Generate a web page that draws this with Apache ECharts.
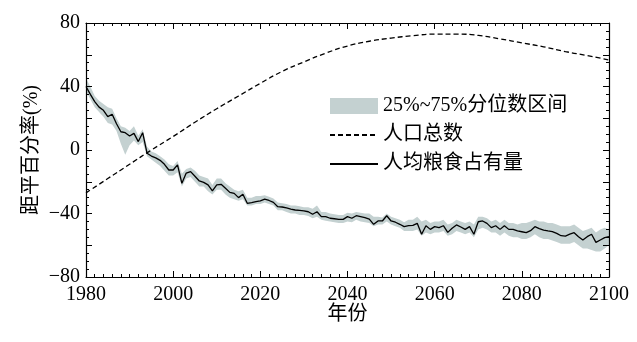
<!DOCTYPE html>
<html><head><meta charset="utf-8">
<script src="https://cdn.jsdelivr.net/npm/echarts@6/dist/echarts.min.js"></script>
<style>html,body{margin:0;padding:0;background:#fff}#c{width:637px;height:342px}</style>
</head><body><div id="c"></div>
<script>
const startYear = 1980;
const endYear = 2100;
const perCapitaMedian = [
 40, 35, 30.5, 27, 25, 21, 22.5, 16.5, 11.5, 10.9,
 8.8, 10.5, 5.3, 10.9, -2, -3.8, -5, -6.5, -9, -12.6,
 -12.6, -9.4, -21, -14.5, -13.6, -16.5, -19.5, -20.4, -22, -25.8,
 -22, -21.6, -24.1, -26.7, -27.3, -30, -27.9, -33.6, -33.2, -32.5,
 -32, -31, -31.8, -33, -35.7, -35.9, -36.5, -37.2, -37.8, -38,
 -38.3, -38.9, -40.5, -38.9, -42, -42, -43, -43.3, -43.7, -43.7,
 -42, -43, -41.4, -42, -42.6, -43.5, -46.8, -44.7, -44.7, -41.4,
 -44.7, -45.5, -46.8, -48.3, -47.7, -47.5, -46.2, -53.1, -47.7, -50,
 -48.3, -48.9, -47.7, -51.9, -49.3, -47.2, -48.5, -50, -48.3, -53.1,
 -45.2, -44.7, -46.2, -48.9, -47.7, -50, -47.7, -50, -50, -51,
 -51.5, -52.1, -50.8, -48.3, -49.5, -50.5, -51, -51.4, -52.5, -54,
 -54.2, -53, -52.1, -54.6, -56.7, -54.6, -53.1, -58.2, -56.7, -55.2,
 -54.5
];
const perCapitaLower = [
 37, 32, 27, 24, 21, 17, 16, 12, 4, -3,
 3, 6, 3, 5, -4, -6, -8, -10, -13, -16,
 -16, -14, -23, -18, -17, -20, -23, -23, -26, -28,
 -25, -25, -28, -30, -31, -32, -31, -35, -35, -34,
 -34, -33, -34, -35, -38, -38, -39, -40, -40, -41,
 -41, -41.5, -43, -42, -44, -44.5, -45, -45.5, -46, -46,
 -45, -45.5, -44, -45, -45.5, -46, -48, -47, -47, -45,
 -47, -48, -49, -51, -51, -51, -50, -54, -52, -53,
 -52, -52, -51, -54, -53, -51, -52, -53, -52, -55,
 -50, -49, -50, -52, -52, -54, -52, -54, -55, -55,
 -56, -56, -55, -53, -55, -56, -56, -57, -58, -59,
 -59, -59, -58, -60, -62, -62, -63, -64, -64, -62,
 -60
];
const perCapitaUpper = [
 45, 40, 34, 31, 29, 27, 26, 20, 15, 14,
 12, 15, 9, 13, 2, -1, -2, -4, -6, -9,
 -10, -7, -15, -12, -11, -13, -16, -17, -18, -22,
 -18, -18, -21, -23, -25, -26, -25, -30, -30, -29,
 -29, -28.5, -29.5, -30.5, -33, -33.5, -34, -35, -35, -35.5,
 -36, -36, -37, -35, -39, -39, -40, -40.5, -41, -41,
 -39.5, -40, -39, -39.5, -40, -40, -42, -42, -42.5, -40,
 -42, -43, -44, -45.5, -44, -44, -42, -45, -44, -46,
 -45, -45, -44, -47, -46, -44, -45, -46, -45, -47,
 -42, -42, -43, -45, -44, -46, -44, -46, -46, -47,
 -46, -46, -45, -44, -45, -45, -46, -46, -47, -48,
 -48, -48, -47, -49, -51, -50, -49, -52, -50, -49,
 -50
];
const popYears = [1980,1985,1990,1995,2000,2005,2010,2015,2020,2025,2030,2035,2040,2045,2050,2055,2060,2065,2070,2075,2080,2085,2090,2095,2100];
const popValues = [-27,-18,-9,0,8.5,17.5,26,34,42,49.5,55.5,61,65.5,68.5,70.5,72,73,73,72.2,70,67.5,65,62,59.5,56.7];
const xTickInterval = 20;
const yTickInterval = 20;
const yLabelStep = 40;

const FONT = '"Liberation Serif", "Noto Sans CJK SC", serif';
const yearCats = perCapitaMedian.map((_, i) => String(startYear + i));
const bandData = perCapitaUpper.map((v, i) => v - perCapitaLower[i]);
const popData = popValues.map((v, i) => [popYears[i], v]);
const medianData = perCapitaMedian.map((v, i) => [startYear + i, v]);

const axisLine = {show: true, onZero: false, lineStyle: {color: '#000', width: 1.2}};
const tickStyle = {color: '#000', width: 1};
function xAx(pos, labels) {
  return {
    type: 'value', position: pos, min: startYear, max: endYear, interval: xTickInterval, z: 5,
    axisLine: axisLine,
    axisTick: {show: true, inside: true, length: 6, lineStyle: tickStyle},
    minorTick: {show: true, splitNumber: 10, length: 3, lineStyle: tickStyle},
    splitLine: {show: false},
    axisLabel: {show: labels, fontFamily: FONT, fontSize: 20, color: '#000', margin: 8,
      formatter: v => String(v)},
    name: labels ? '年份' : '', nameLocation: 'middle', nameGap: 28, nameMoveOverlap: false,
    nameTextStyle: {fontFamily: FONT, fontSize: 20, color: '#000'}
  };
}
function yAx(pos, labels) {
  return {
    type: 'value', position: pos, min: -80, max: 80, interval: yTickInterval, z: 5,
    axisLine: axisLine,
    axisTick: {show: true, inside: true, length: 6, lineStyle: tickStyle},
    minorTick: {show: true, splitNumber: 4, length: 3, lineStyle: tickStyle},
    splitLine: {show: false},
    axisLabel: {show: labels, fontFamily: FONT, fontSize: 20, color: '#000', margin: 6,
      formatter: v => (v % yLabelStep === 0) ? (v < 0 ? '\u2212' + (-v) : String(v)) : ''},
    name: labels ? '距平百分率(%)' : '', nameLocation: 'middle', nameGap: 44, nameRotate: 90,
    nameMoveOverlap: false,
    nameTextStyle: {fontFamily: FONT, fontSize: 20, color: '#000'}
  };
}

const chart = echarts.init(document.getElementById('c'), null, {renderer: 'canvas'});
chart.setOption({
  animation: false,
  backgroundColor: '#fff',
  grid: {left: 86, right: 28, top: 23, bottom: 65},
  xAxis: [
    xAx('bottom', true),
    xAx('top', false),
    {type: 'category', data: yearCats, boundaryGap: false, show: false, position: 'bottom'}
  ],
  yAxis: [yAx('left', true), yAx('right', false)],
  legend: {
    orient: 'vertical', left: 329, top: 96, padding: 0, itemWidth: 48, itemHeight: 16, itemGap: 9,
    textStyle: {fontFamily: FONT, fontSize: 20, color: '#000'},
    data: [
      {name: '25%~75%分位数区间', icon: 'rect', itemStyle: {color: '#c4d1d1'}},
      {name: '人口总数'},
      {name: '人均粮食占有量'}
    ]
  },
  series: [
    {name: 'lower', type: 'line', xAxisIndex: 2, data: perCapitaLower, stack: 'band', stackStrategy: 'all',
     symbol: 'none', lineStyle: {opacity: 0}, silent: true},
    {name: '25%~75%分位数区间', type: 'line', xAxisIndex: 2, data: bandData, stack: 'band', stackStrategy: 'all',
     symbol: 'none', lineStyle: {opacity: 0}, areaStyle: {color: '#c4d1d1', opacity: 1}, itemStyle: {color: '#c4d1d1'}},
    {name: '人口总数', type: 'line', xAxisIndex: 0, data: popData, symbol: 'none', smooth: true,
     lineStyle: {color: '#000', width: 1.3, type: [5, 3]}, itemStyle: {color: '#000', opacity: 0}},
    {name: '人均粮食占有量', type: 'line', xAxisIndex: 0, data: medianData, symbol: 'none',
     lineStyle: {color: '#000', width: 1.3}, itemStyle: {color: '#000', opacity: 0}}
  ]
});
</script></body></html>
